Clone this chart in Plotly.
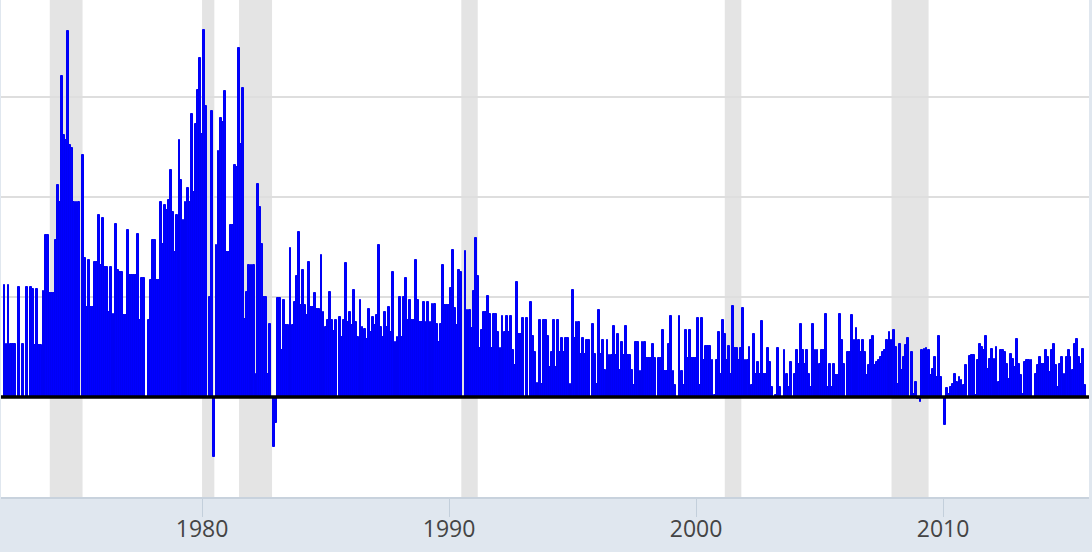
import pandas as pd
import plotly.graph_objects as go

# Monthly values (grid unit = 1), Jan 1972 - Oct 2015
vals_1970s = [
    1.12, 0.53, 1.12, 0.53, 0.53, 0.53, 0, 1.1, 0, 0.53, 0, 1.1,          # 1972
    0, 1.1, 1.08, 0.52, 1.08, 0.52, 0.52, 1.06, 1.62, 1.62, 1.04, 1.04,    # 1973
    1.04, 1.57, 2.12, 1.95, 3.21, 2.62, 2.57, 3.66, 2.52, 2.49, 1.95, 1.95,  # 1974
    1.95, 0, 2.42, 1.39, 0.9, 1.37, 0.9, 0.9, 1.35, 1.35, 1.82, 1.32,      # 1975
    1.79, 1.3, 1.3, 0.85, 1.3, 0.83, 1.73, 1.27, 1.25, 1.25, 0.82, 0.82,   # 1976
    1.67, 1.22, 1.22, 1.22, 1.22, 1.63, 0.77, 1.19, 1.19, 0, 0.77, 1.17,   # 1977
    1.57, 1.57, 1.17, 1.17, 1.95, 1.53, 1.92, 1.87, 1.97, 2.27, 1.85, 1.45,  # 1978
    1.82, 2.57, 2.17, 1.77, 1.95, 2.09, 1.95, 2.83, 2.05, 2.73, 3.07, 3.39,  # 1979
]
vals_1980s = [
    2.63, 3.67, 2.91, 0, 1.0, 2.86, -0.6, 1.52, 2.46, 2.79, 2.75, 3.06,    # 1980
    1.45, 1.45, 1.72, 1.72, 2.32, 2.3, 3.49, 2.53, 3.09, 0.78, 1.05, 1.32,  # 1981
    1.32, 1.32, 0.23, 2.13, 1.9, 1.53, 1.0, 1.0, 0.23, 0.73, 0, -0.5,      # 1982
    -0.26, 0.99, 0.99, 0.47, 0.97, 0.72, 0.72, 1.49, 0.72, 0.95, 1.21, 1.65,  # 1983
    0.92, 1.27, 0.92, 0.82, 1.35, 0.9, 0.9, 1.04, 0.88, 0.88, 1.42, 0.85,  # 1984
    0.7, 0.77, 1.05, 0.77, 0.66, 0.77, 0, 0.8, 0.6, 0.77, 1.34, 0.75,      # 1985
    0.85, 0.72, 1.07, 0.75, 0.6, 0.97, 0.7, 0.68, 0.58, 0.88, 0.65, 0.8,   # 1986
    0.72, 0.82, 1.52, 0.7, 0.6, 0.85, 0.7, 0.9, 0.65, 1.25, 0.55, 0.6,     # 1987
    1.0, 0.6, 1.0, 1.19, 0.77, 0.97, 0.77, 0.77, 1.37, 0.97, 0.75, 0.75,   # 1988
    0.95, 0.75, 0.95, 0.75, 0.93, 0.93, 0.73, 0.55, 0.73, 1.32, 0.92, 0.92,  # 1989
]
vals_1990s = [
    0.92, 1.09, 1.47, 0.89, 0.72, 1.27, 1.25, 0, 1.46, 0.87, 0.87, 0.69,   # 1990
    1.06, 1.59, 1.21, 0.49, 0.67, 0.85, 0.85, 1.01, 0.83, 0.49, 0.83, 0.83,  # 1991
    0.65, 0.49, 0.81, 0.65, 0.81, 0.65, 0.81, 0.47, 0.32, 1.15, 0.63, 0.63,  # 1992
    0.79, 0, 0.79, 0, 0.95, 0.61, 0.45, 0.14, 0.77, 0.13, 0.77, 0.77,      # 1993
    0.61, 0.3, 0.45, 0.77, 0.3, 0.77, 0.45, 0.59, 0.45, 0.59, 0.59, 0.13,  # 1994
    1.07, 0.59, 0.75, 0.75, 0.43, 0.59, 0.43, 0.57, 0.57, 0, 0.73, 0.43,   # 1995
    0.13, 0.87, 0.43, 0.57, 0.27, 0.57, 0.42, 0.42, 0.71, 0.42, 0.63, 0.27,  # 1996
    0.55, 0.42, 0.71, 0.42, 0.42, 0.27, 0.12, 0.55, 0.55, 0.26, 0.55, 0.55,  # 1997
    0.39, 0.39, 0.39, 0.53, 0.39, 0, 0.39, 0.39, 0.67, 0.26, 0.26, 0.53,   # 1998
    0.81, 0.26, 0.12, 0, 0.81, 0.26, 0.12, 0.67, 0.39, 0.67, 0.39, 0.39,   # 1999
]
vals_2000s = [
    0.39, 0.79, 0.12, 0.79, 0.37, 0.51, 0.51, 0.51, 0.37, 0.02, 0.37, 0.65,  # 2000
    0.23, 0.77, 0.63, 0.37, 0.51, 0.23, 0.91, 0.49, 0.49, 0.37, 0.49, 0.89,  # 2001
    0.37, 0.37, 0.5, 0.12, 0.63, 0.23, 0.35, 0.23, 0.76, 0.23, 0.23, 0.49,   # 2002
    0.35, 0.1, 0, 0.02, 0.49, 0.1, 0, 0.47, 0.23, 0.1, 0.35, 0,            # 2003
    0.23, 0.47, 0.33, 0.73, 0.47, 0.33, 0.47, 0.23, 0.1, 0.73, 0.47, 0.47,   # 2004
    0.33, 0.47, 0.47, 0.83, 0.1, 0.33, 0.1, 0.33, 0.22, 0.22, 0.83, 0.57,    # 2005
    0.33, 0, 0.45, 0.45, 0.82, 0.57, 0.69, 0.57, 0.45, 0.57, 0.45, 0.22,     # 2006
    0.32, 0.57, 0.61, 0.32, 0.35, 0.37, 0.4, 0.45, 0.47, 0.57, 0.65, 0.57,   # 2007
    0.67, 0.5, 0.13, 0.53, 0.27, 0.4, 0.52, 0.59, 0, 0.45, 0.03, 0.15,       # 2008
    -0.02, -0.05, 0.47, 0.48, 0.49, 0.47, 0.22, 0.28, 0.4, 0.2, 0.61, 0.2,   # 2009
]
vals_2010s = [
    0, -0.28, 0.09, 0.03, 0.1, 0.13, 0.23, 0.15, 0.2, 0.17, 0.12, 0.32,     # 2010
    0, 0.41, 0.42, 0.42, 0.02, 0.37, 0.53, 0.5, 0.47, 0.61, 0.28, 0.38,     # 2011
    0.48, 0.38, 0.5, 0.15, 0.47, 0.47, 0.45, 0.33, 0.18, 0.43, 0.38, 0.3,   # 2012
    0.58, 0.33, 0.22, 0.03, 0.35, 0.37, 0.37, 0.37, 0, 0.23, 0.32, 0.4,     # 2013
    0.33, 0.33, 0.47, 0.4, 0.25, 0.47, 0.53, 0.32, 0.1, 0.33, 0.4, 0.23,    # 2014
    0.4, 0.47, 0.4, 0.27, 0.53, 0.58, 0.4, 0.33, 0.48, 0.12,                # 2015
]

values = vals_1970s + vals_1980s + vals_1990s + vals_2000s + vals_2010s
dates = pd.date_range("1972-01-01", periods=len(values), freq="MS")

recessions = [
    ("1973-11-01", "1975-03-01"),
    ("1980-01-01", "1980-07-01"),
    ("1981-07-01", "1982-11-01"),
    ("1990-07-01", "1991-03-01"),
    ("2001-03-01", "2001-11-01"),
    ("2007-12-01", "2009-06-01"),
]

tick_years = ["1980-01-01", "1990-01-01", "2000-01-01", "2010-01-01"]
tick_labels = ["1980", "1990", "2000", "2010"]

fig = go.Figure()
fig.add_trace(go.Bar(
    x=dates, y=values,
    marker=dict(color="#0000ff", line=dict(color="#0000f4", width=1.0)),
    hoverinfo="x+y",
))

shapes = []
for s, e in recessions:
    shapes.append(dict(type="rect", xref="x", yref="paper", x0=s, x1=e, y0=0, y1=1,
                       fillcolor="#e4e4e4", line=dict(width=0), layer="below"))
# baseline drawn above the bars
shapes.append(dict(type="line", xref="paper", yref="y", x0=0, x1=1, y0=0, y1=0,
                   line=dict(color="#000000", width=3.5), layer="above"))
fig.update_layout(shapes=shapes)

fig.update_layout(
    width=1092, height=552,
    margin=dict(l=1, r=3, t=0, b=55, pad=0),
    paper_bgcolor="#e0e7ef",
    plot_bgcolor="#ffffff",
    bargap=0,
    showlegend=False,
    font=dict(family="Open Sans", color="#444444"),
    xaxis=dict(
        type="date",
        range=["1971-11-11", "2015-11-29"],
        tickvals=tick_years, ticktext=tick_labels,
        ticks="outside", ticklen=18, tickcolor="#c3cfdb", tickwidth=1,
        ticklabelstandoff=-8,
        tickfont=dict(size=23, color="#444444", family="Open Sans"),
        showgrid=False, showline=True, linecolor="#c8d2dd", linewidth=2,
        zeroline=False,
    ),
    yaxis=dict(
        range=[-1, 3.97],
        dtick=1, tick0=0,
        showticklabels=False,
        showgrid=True, gridcolor="#dedede", gridwidth=1.5,
        zeroline=False,
        showline=False,
    ),
)

fig.write_html(
    "out.html",
    config={"displayModeBar": False},
    post_script="document.body.style.margin='0';document.body.style.overflow='hidden';",
)
